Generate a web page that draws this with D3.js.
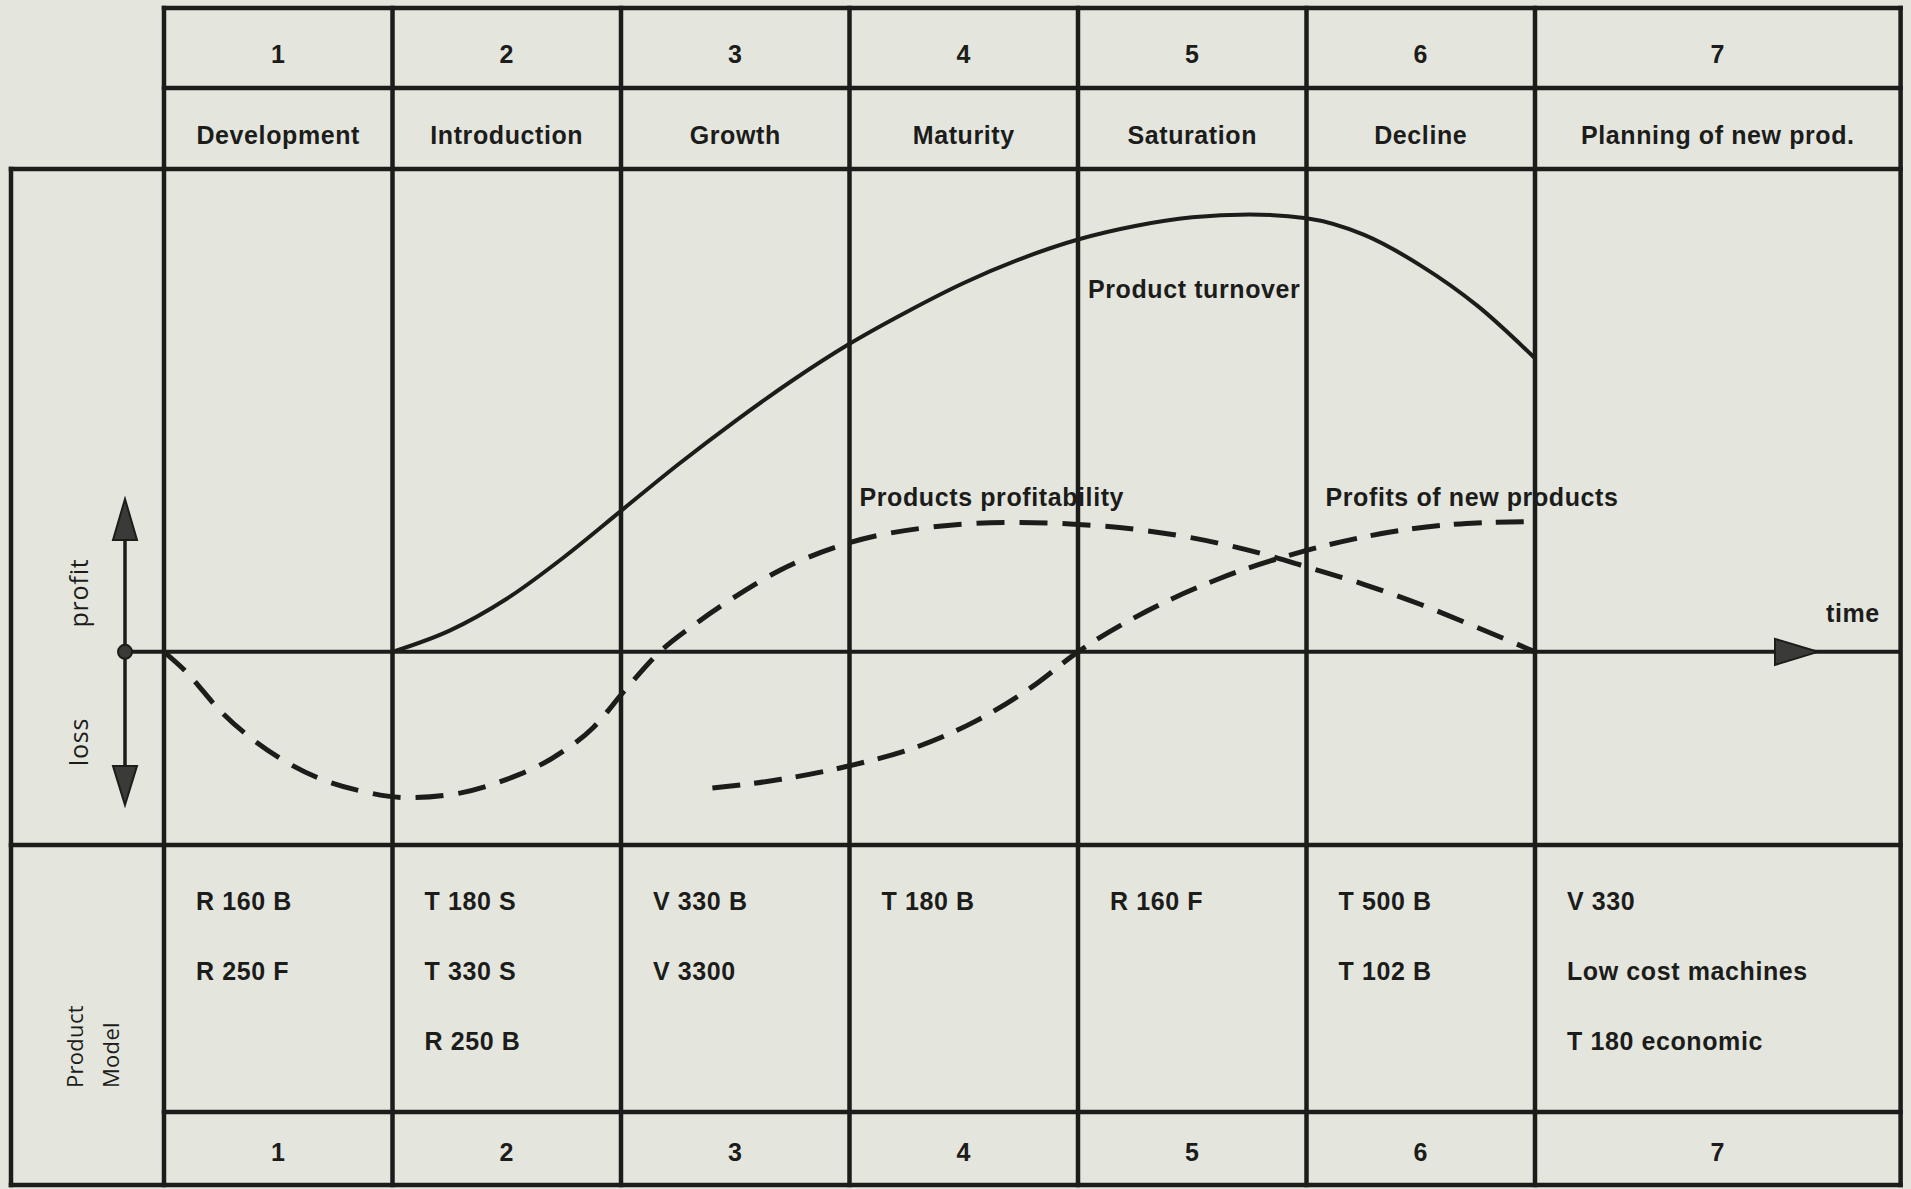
<!DOCTYPE html>
<html>
<head>
<meta charset="utf-8">
<script src="https://cdn.jsdelivr.net/npm/d3@7"></script>
<style>
  html, body { margin: 0; padding: 0; background: #e4e6de; }
  svg { display: block; }
  .lbl { font-family: "Liberation Sans", Arial, sans-serif; font-weight: 700; font-size: 25px; letter-spacing: 0.6px; fill: #1c1c1a; }
  .side { font-family: "Open Sans", "Noto Sans", sans-serif; font-weight: 400; font-size: 25px; letter-spacing: 0.8px; fill: #1c1c1a; }
  .side.sm { font-size: 22px; letter-spacing: 0.3px; }
</style>
</head>
<body>
<svg id="chart" width="1911" height="1189"></svg>
<script>
// Product life cycle: stages, models per stage and the three curves (time in stage units)
const stageNumbers = ["1", "2", "3", "4", "5", "6", "7"];
const stageNames = ["Development", "Introduction", "Growth", "Maturity", "Saturation", "Decline", "Planning of new prod."];
const stageModels = [
  ["R 160 B", "R 250 F"],
  ["T 180 S", "T 330 S", "R 250 B"],
  ["V 330 B", "V 3300"],
  ["T 180 B"],
  ["R 160 F"],
  ["T 500 B", "T 102 B"],
  ["V 330", "Low cost machines", "T 180 economic"]
];
// column edges on the time scale (last stage is wider)
const stageEdges = [0, 1, 2, 3, 4, 5, 6, 7.6];

// product turnover (solid)
const turnover = [
  [1.0, 0], [1.25, 0.22], [1.5, 0.55], [1.75, 0.98], [2.0, 1.46], [2.25, 1.94],
  [2.5, 2.39], [2.75, 2.81], [3.0, 3.19], [3.25, 3.52], [3.5, 3.82], [3.75, 4.07],
  [4.0, 4.27], [4.25, 4.41], [4.5, 4.5], [4.75, 4.53], [5.0, 4.49], [5.25, 4.32],
  [5.5, 4.0], [5.75, 3.58], [6.0, 3.04]
];
// profitability of the current products (dashed)
const profitability = [
  [0, 0], [0.09, -0.19], [0.25, -0.62], [0.5, -1.09], [0.68, -1.31], [0.86, -1.44],
  [1.07, -1.51], [1.3, -1.46], [1.5, -1.32], [1.7, -1.1], [1.88, -0.78], [2.02, -0.39],
  [2.17, 0], [2.32, 0.28], [2.46, 0.51], [2.7, 0.85], [3.0, 1.13], [3.35, 1.29],
  [3.7, 1.34], [4.0, 1.32], [4.5, 1.18], [4.83, 1.0], [5.0, 0.88], [5.25, 0.7],
  [5.5, 0.49], [5.75, 0.25], [6.0, 0]
];
// profits of new products (dashed)
const newProfits = [
  [2.4, -1.41], [2.7, -1.32], [3.0, -1.18], [3.3, -0.98], [3.55, -0.72], [3.8, -0.36],
  [4.0, 0], [4.3, 0.42], [4.62, 0.76], [5.0, 1.05], [5.42, 1.26], [5.7, 1.33], [6.0, 1.35]
];
const curveLabels = ["Product turnover", "Products profitability", "Profits of new products"];
const axisLabels = { up: "profit", down: "loss", time: "time", rows: ["Product", "Model"] };

const ink = "#1c1c1a";
const svg = d3.select("#chart");

// frame layout
const outerLeft = 11, tableTop = 8, row1 = 88, mainTop = 169, mainBottom = 845, numRow = 1112, bottom = 1185;

const x = d3.scaleLinear().domain([0, 6]).range([164, 1535]);
const y = d3.scaleLinear().domain([-2, 5]).range([mainBottom, mainTop]);
const right = x(stageEdges[stageEdges.length - 1]);
const y0 = y(0);

// --- curves (under the grid lines) ---
const line = d3.line().x(d => x(d[0])).y(d => y(d[1])).curve(d3.curveMonotoneX);
const curves = svg.append("g").attr("fill", "none").attr("stroke", ink).attr("stroke-linecap", "butt");
curves.append("path").attr("d", line(turnover)).attr("stroke-width", 4);
curves.append("path").attr("d", line(profitability)).attr("stroke-width", 5).attr("stroke-dasharray", "28,15");
curves.append("path").attr("d", line(newProfits)).attr("stroke-width", 5).attr("stroke-dasharray", "28,14");

// --- grid ---
const grid = svg.append("g").attr("stroke", ink).attr("stroke-width", 4.5).attr("stroke-linecap", "square");
const hLines = [
  [x(0), right, tableTop], [x(0), right, row1], [outerLeft, right, mainTop],
  [outerLeft, right, mainBottom], [x(0), right, numRow], [outerLeft, right, bottom]
];
grid.selectAll("line.h").data(hLines).join("line")
  .attr("x1", d => d[0]).attr("x2", d => d[1]).attr("y1", d => d[2]).attr("y2", d => d[2]);
grid.selectAll("line.v").data(stageEdges).join("line")
  .attr("x1", d => x(d)).attr("x2", d => x(d)).attr("y1", tableTop).attr("y2", bottom);
grid.append("line").attr("x1", outerLeft).attr("x2", outerLeft).attr("y1", mainTop).attr("y2", bottom);

// --- time axis ---
const axisStart = 125;
svg.append("line").attr("x1", axisStart).attr("x2", right).attr("y1", y0).attr("y2", y0)
  .attr("stroke", ink).attr("stroke-width", 4);
svg.append("path")
  .attr("d", `M${1775},${y0 - 13}L${1818},${y0}L${1775},${y0 + 13}Z`)
  .attr("fill", "#3a3a38").attr("stroke", ink).attr("stroke-width", 2);
svg.append("text").attr("class", "lbl").attr("x", 1826).attr("y", 622).text(axisLabels.time);

// --- profit / loss arrow ---
svg.append("line").attr("x1", axisStart).attr("x2", axisStart).attr("y1", 530).attr("y2", 775)
  .attr("stroke", ink).attr("stroke-width", 3.5);
svg.append("path").attr("d", `M${axisStart},499L${axisStart + 12},540L${axisStart - 12},540Z`)
  .attr("fill", "#3a3a38").attr("stroke", ink).attr("stroke-width", 2);
svg.append("path").attr("d", `M${axisStart},805L${axisStart + 12},766L${axisStart - 12},766Z`)
  .attr("fill", "#3a3a38").attr("stroke", ink).attr("stroke-width", 2);
svg.append("circle").attr("cx", axisStart).attr("cy", y0).attr("r", 7).attr("fill", "#3a3a38").attr("stroke", ink).attr("stroke-width", 2);

svg.append("text").attr("class", "side").attr("text-anchor", "middle")
  .attr("transform", `translate(88,593) rotate(-90)`).text(axisLabels.up);
svg.append("text").attr("class", "side").attr("text-anchor", "middle")
  .attr("transform", `translate(88,742) rotate(-90)`).text(axisLabels.down);
axisLabels.rows.forEach((t, i) => {
  svg.append("text").attr("class", "side sm").attr("text-anchor", "start")
    .attr("transform", `translate(${83 + i * 36},1088) rotate(-90)`).text(t);
});

// --- table text ---
const cols = stageNumbers.map((n, i) => ({
  n, name: stageNames[i], models: stageModels[i],
  x0: x(stageEdges[i]), x1: x(stageEdges[i + 1])
}));
const tg = svg.append("g");
tg.selectAll("text.num-top").data(cols).join("text").attr("class", "lbl")
  .attr("text-anchor", "middle").attr("x", d => (d.x0 + d.x1) / 2).attr("y", 63).text(d => d.n);
tg.selectAll("text.name").data(cols).join("text").attr("class", "lbl")
  .attr("text-anchor", "middle").attr("x", d => (d.x0 + d.x1) / 2).attr("y", 144).text(d => d.name);
tg.selectAll("text.num-bot").data(cols).join("text").attr("class", "lbl")
  .attr("text-anchor", "middle").attr("x", d => (d.x0 + d.x1) / 2).attr("y", 1161).text(d => d.n);
cols.forEach(c => {
  c.models.forEach((m, j) => {
    tg.append("text").attr("class", "lbl").attr("x", c.x0 + 32).attr("y", 910 + j * 70).text(m);
  });
});

// --- curve labels ---
svg.append("text").attr("class", "lbl").attr("x", x(4) + 10).attr("y", 298).text(curveLabels[0]);
svg.append("text").attr("class", "lbl").attr("x", x(3) + 10).attr("y", 506).text(curveLabels[1]);
svg.append("text").attr("class", "lbl").attr("x", x(5) + 19).attr("y", 506).text(curveLabels[2]);
</script>
</body>
</html>
